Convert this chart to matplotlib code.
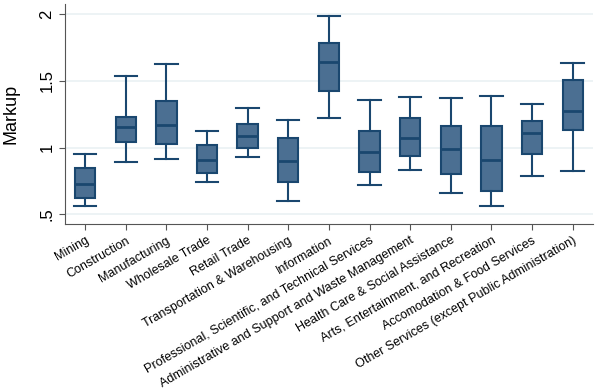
import matplotlib.pyplot as plt

plt.rcParams['font.family'] = ['Liberation Sans', 'DejaVu Sans']

# Industries and box statistics
industries = [
    'Mining', 'Construction', 'Manufacturing', 'Wholesale Trade', 'Retail Trade',
    'Transportation & Warehousing', 'Information',
    'Professional, Scientific, and Technical Services',
    'Administrative and Support and Waste Management',
    'Health Care & Social Assistance', 'Arts, Entertainment, and Recreation',
    'Accomodation & Food Services', 'Other Services (except Public Administration)',
]
whisk_lo = [0.56, 0.893, 0.918, 0.74, 0.933, 0.603, 1.225, 0.718, 0.83, 0.663, 0.563, 0.785, 0.825]
q1 = [0.623, 1.045, 1.025, 0.81, 0.995, 0.745, 1.422, 0.815, 0.94, 0.805, 0.678, 0.953, 1.135]
med = [0.73, 1.155, 1.167, 0.905, 1.087, 0.903, 1.644, 0.97, 1.075, 0.988, 0.905, 1.107, 1.277]
q3 = [0.85, 1.232, 1.35, 1.017, 1.177, 1.07, 1.784, 1.127, 1.22, 1.165, 1.16, 1.202, 1.504]
whisk_hi = [0.955, 1.54, 1.63, 1.125, 1.295, 1.21, 1.989, 1.36, 1.382, 1.375, 1.387, 1.325, 1.634]

yticks = [0.5, 1, 1.5, 2]
ytick_labels = ['.5', '1', '1.5', '2']

navy = '#1a476f'
fill = '#4b6f92'

stats = []
for i in range(len(industries)):
    stats.append({'whislo': whisk_lo[i], 'q1': q1[i], 'med': med[i],
                  'q3': q3[i], 'whishi': whisk_hi[i], 'fliers': []})

fig = plt.figure(figsize=(6.06, 3.9), dpi=100)
ax = fig.add_axes([0.107, 0.4256, 0.8715, 0.564])

positions = list(range(1, len(industries) + 1))
ax.bxp(stats, positions=positions, widths=0.5, capwidths=0.55, patch_artist=True,
       showfliers=False,
       boxprops=dict(facecolor=fill, edgecolor=navy, linewidth=1.5),
       medianprops=dict(color=navy, linewidth=2),
       whiskerprops=dict(color=navy, linewidth=1.5),
       capprops=dict(color=navy, linewidth=1.5))

ax.set_xlim(0.5, 13.5)
ax.set_ylim(0.428, 2.076)
ax.set_yticks(yticks)
ax.set_yticklabels(ytick_labels, rotation=90, va='center', fontsize=12)
ax.set_xticks(positions)
ax.set_xticklabels(industries, rotation=30, ha='right', rotation_mode='anchor', fontsize=9)
ax.set_ylabel('Markup', fontsize=13, labelpad=14)

ax.grid(axis='y', color='#eaf1f3', linewidth=1.2, zorder=0)
ax.set_axisbelow(True)
for s in ['top', 'right']:
    ax.spines[s].set_visible(False)
for s in ['left', 'bottom']:
    ax.spines[s].set_color('#555555')
ax.tick_params(axis='both', colors='#555555', labelcolor='black', length=4)

fig.savefig('out.png', dpi=100)
